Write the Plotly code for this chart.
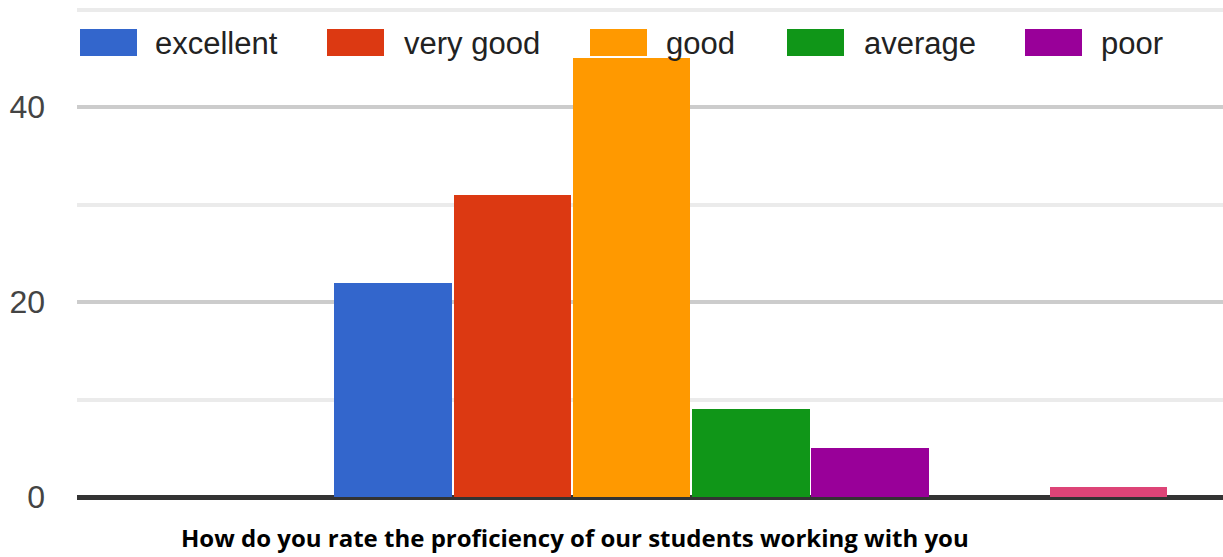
import plotly.graph_objects as go

series_names = ["excellent", "very good", "good", "average", "poor", "", ""]
series_values = [22, 31, 45, 9, 5, 0, 1]
series_colors = ["#3366cc", "#dc3912", "#ff9900", "#109618", "#990099", "#0099c6", "#dd4477"]
legend_count = 5
y_ticks = [0, 20, 40]
title_text = "How do you rate the proficiency of our students working with you"

W, H = 1223, 557
ML, MR, MT, MB = 77, 0, 7, 60
PW, PH = W - ML - MR, H - MT - MB
Y_MAX = 50 * PH / 487.5

fig = go.Figure()
for i, (n, v, c) in enumerate(zip(series_names, series_values, series_colors)):
    fig.add_trace(go.Bar(x=[i], y=[v], name=n, width=0.985,
                         marker=dict(color=c, line=dict(width=0)),
                         showlegend=False))

def px(xp):
    return (xp - ML) / PW

def py(yp):
    return (H - MB - yp) / PH

shapes = []
annotations = []
box_left = [80, 327, 590, 787, 1025]
text_left = [153, 402, 664, 862, 1099]
for k in range(legend_count):
    shapes.append(dict(type="rect", xref="paper", yref="paper",
                       x0=px(box_left[k]), x1=px(box_left[k] + 57),
                       y0=py(56), y1=py(29), fillcolor=series_colors[k],
                       line=dict(width=0), layer="above"))
    annotations.append(dict(text=series_names[k], xref="paper", yref="paper",
                            x=px(text_left[k]), y=py(43), xanchor="left", yanchor="middle",
                            showarrow=False,
                            font=dict(family="Liberation Sans, Arial", size=31, color="#222222")))

annotations.append(dict(text="<b>" + title_text + "</b>", xref="paper", yref="paper",
                        x=px(575), y=py(537), xanchor="center", yanchor="middle",
                        showarrow=False,
                        font=dict(family="Open Sans", size=24, color="#000000")))

fig.update_layout(
    width=W, height=H,
    margin=dict(l=ML, r=MR, t=MT, b=MB),
    paper_bgcolor="white", plot_bgcolor="white",
    bargap=0, barmode="overlay",
    shapes=shapes, annotations=annotations,
    xaxis=dict(range=[-2.65, 6.96], showticklabels=False, showgrid=False,
               zeroline=False, showline=False, fixedrange=True),
    yaxis=dict(range=[0, Y_MAX], tickvals=y_ticks, showgrid=True,
               gridcolor="#cccccc", gridwidth=4,
               zeroline=True, zerolinecolor="#333333", zerolinewidth=5,
               tickfont=dict(family="Liberation Sans, Arial", size=32, color="#444444"),
               ticklabelstandoff=31,
               minor=dict(dtick=10, tick0=0, showgrid=True, gridcolor="#ebebeb", gridwidth=4),
               showline=False, fixedrange=True),
)

fig.write_html("out.html", config={"displayModeBar": False},
               post_script="document.body.style.margin='0';document.body.style.overflow='hidden';")
